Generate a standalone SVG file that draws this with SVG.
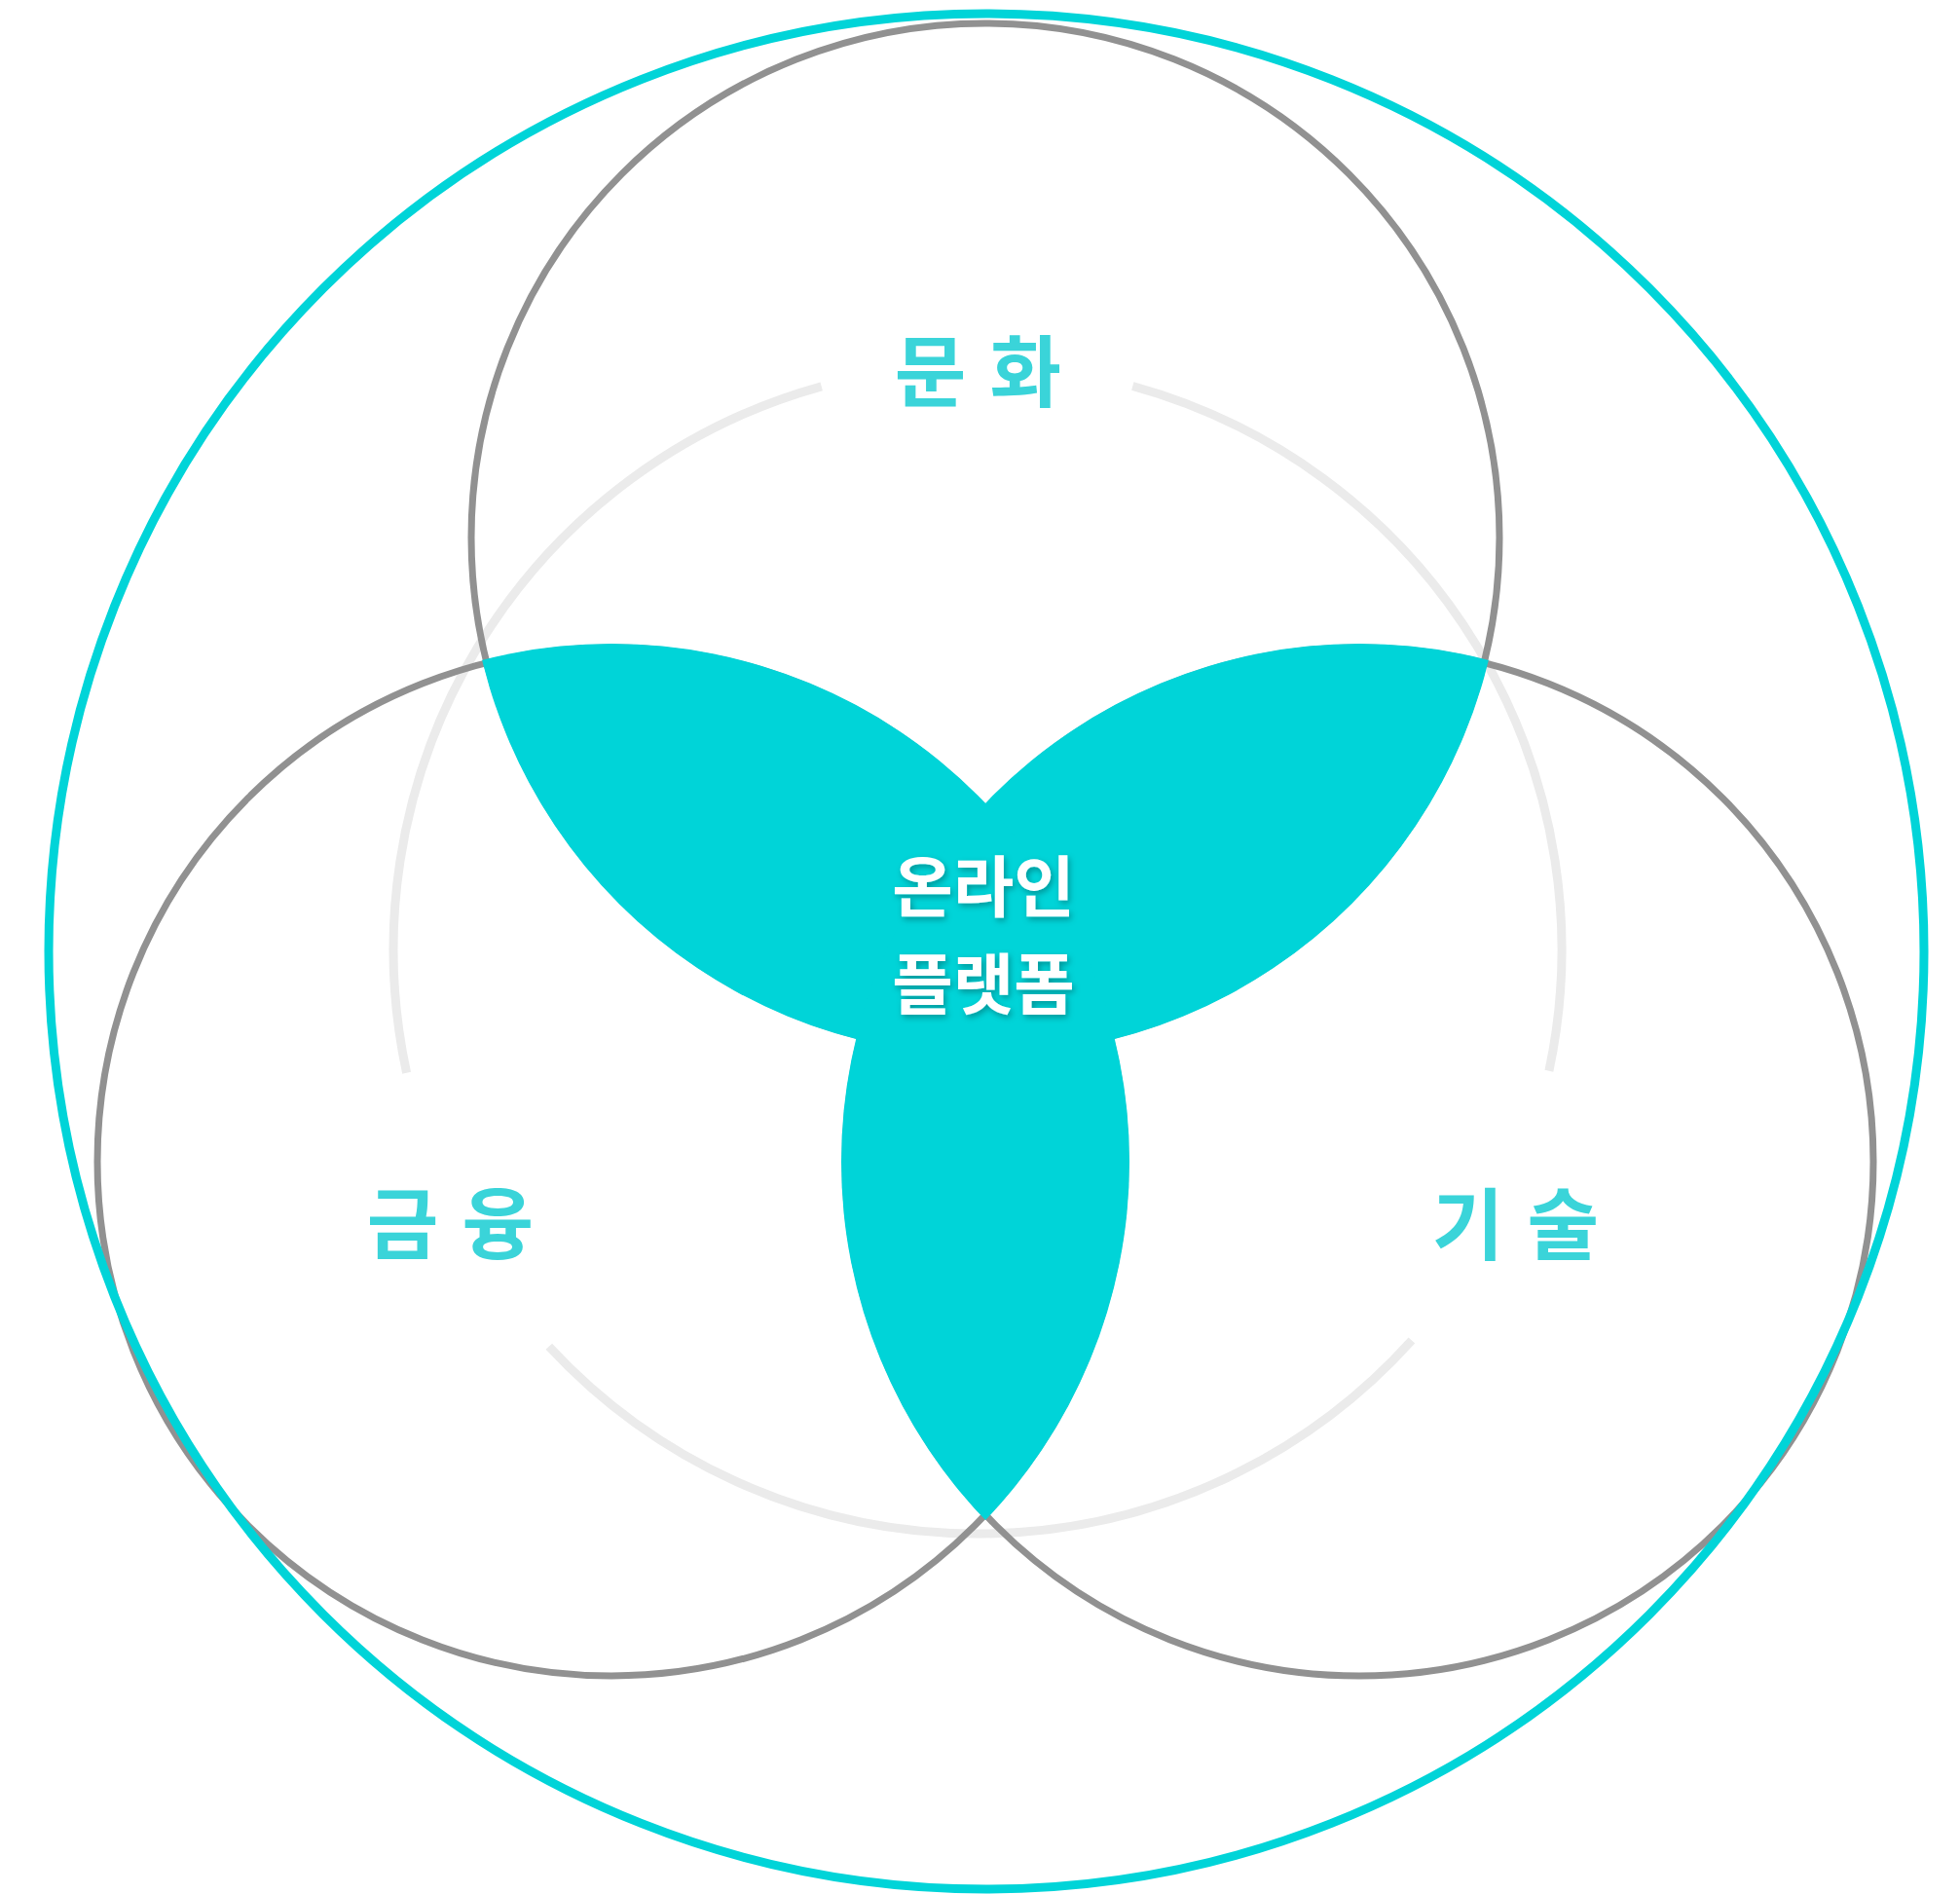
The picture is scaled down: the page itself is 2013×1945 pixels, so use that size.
<svg xmlns="http://www.w3.org/2000/svg" width="2013" height="1945" viewBox="0 0 2013 1945">
  <style>
    .ring { fill: none; stroke: #919191; stroke-width: 7; }
    .outer { fill: none; stroke: #00D4D8; stroke-width: 9; }
    .arc { fill: none; stroke: #EBEBEB; stroke-width: 9; stroke-linecap: butt; }
    .lobe { fill: #00D4D8; }
    .label { font-family: "Noto Sans CJK KR", "Noto Sans", sans-serif; font-size: 80px; font-weight: 700; fill: #3AD4D9; text-anchor: middle; letter-spacing: 3px; }
    .center { font-family: "Noto Sans CJK KR", "Noto Sans", sans-serif; font-size: 68px; font-weight: 700; fill: #FFFFFF; text-anchor: middle; }
  </style>
  <defs>
    <clipPath id="clipTop"><circle cx="1012" cy="552" r="532"/></clipPath>
    <clipPath id="clipLeft"><circle cx="628" cy="1193" r="532"/></clipPath>
    <filter id="shadow" x="-20%" y="-20%" width="140%" height="140%">
      <feDropShadow dx="2" dy="3" stdDeviation="3" flood-color="#000000" flood-opacity="0.3"/>
    </filter>
  </defs>

  <g id="connectors">
    <path class="arc" d="M 843.7 396.8 A 600 600 0 0 0 417.6 1101.8"/>
    <path class="arc" d="M 1163.3 396.5 A 600 600 0 0 1 1590.9 1099.8"/>
    <path class="arc" d="M 563.8 1382.7 A 600 600 0 0 0 1449.9 1376.5"/>
  </g>

  <g id="circle-culture"><circle class="ring" cx="1012" cy="552" r="528"/></g>
  <g id="circle-finance"><circle class="ring" cx="628" cy="1193" r="528"/></g>
  <g id="circle-tech"><circle class="ring" cx="1396" cy="1193" r="528"/></g>

  <g id="outer-ring"><circle class="outer" cx="1013" cy="977" r="963"/></g>

  <g id="online-platform">
    <g clip-path="url(#clipTop)"><circle class="lobe" cx="628" cy="1193" r="532"/></g>
    <g clip-path="url(#clipTop)"><circle class="lobe" cx="1396" cy="1193" r="532"/></g>
    <g clip-path="url(#clipLeft)"><circle class="lobe" cx="1396" cy="1193" r="532"/></g>
    <g filter="url(#shadow)">
      <text class="center" x="1010" y="936">온라인</text>
      <text class="center" x="1010" y="1036">플랫폼</text>
    </g>
  </g>

  <g id="label-culture"><text class="label" x="1006" y="411">문 화</text></g>
  <g id="label-finance"><text class="label" x="464" y="1286">금 융</text></g>
  <g id="label-tech"><text class="label" x="1558" y="1287">기 술</text></g>
</svg>
